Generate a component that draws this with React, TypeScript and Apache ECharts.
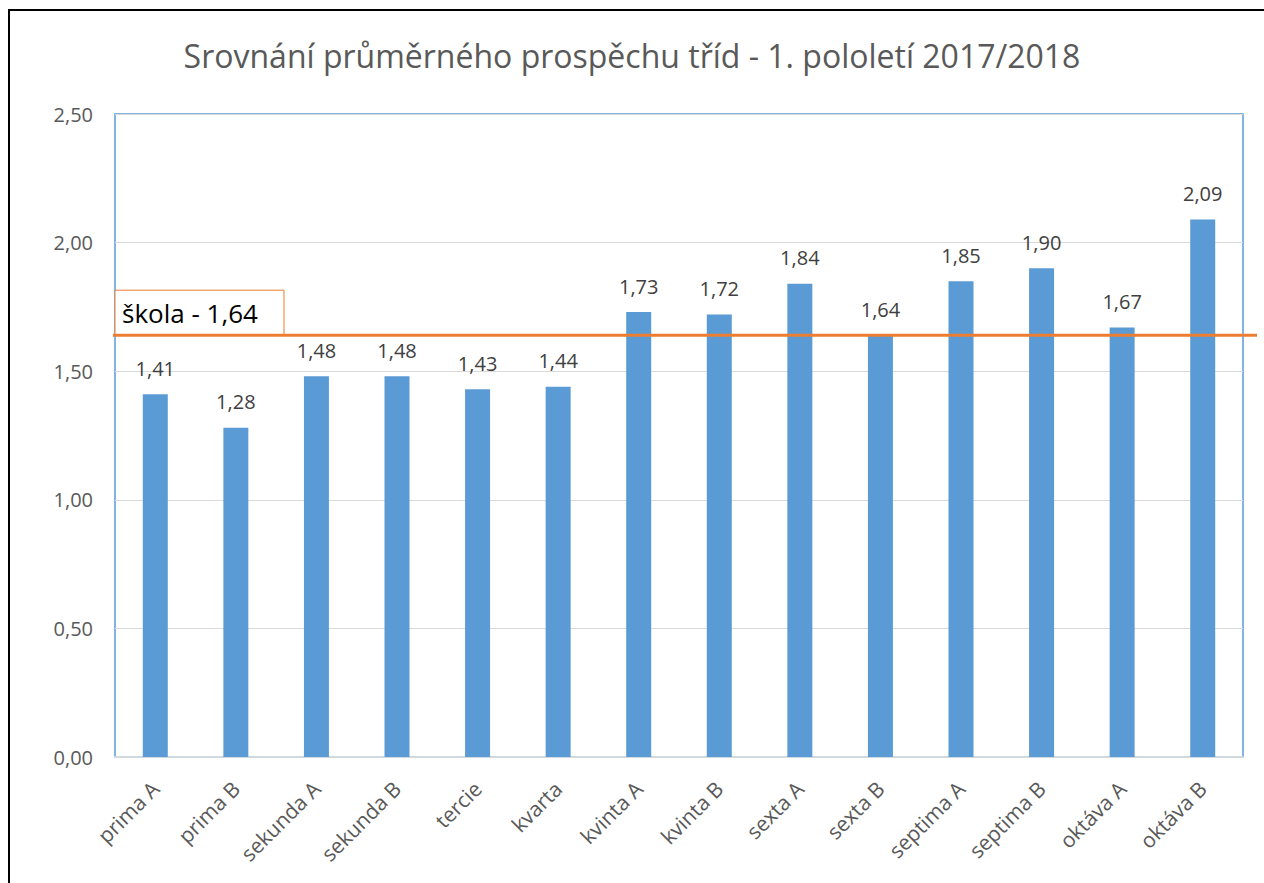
import React, { useEffect, useRef } from "react";
import * as echarts from "echarts";

const categories = [
  "prima A", "prima B", "sekunda A", "sekunda B", "tercie", "kvarta",
  "kvinta A", "kvinta B", "sexta A", "sexta B", "septima A", "septima B",
  "oktáva A", "oktáva B",
];
const values = [1.41, 1.28, 1.48, 1.48, 1.43, 1.44, 1.73, 1.72, 1.84, 1.64, 1.85, 1.9, 1.67, 2.09];
const schoolAverage = 1.64;
const schoolLabel = "škola - 1,64";
const titleText = "Srovnání průměrného prospěchu tříd - 1. pololetí 2017/2018";

const FONT = "'Open Sans', sans-serif";
const fmt = (v: number) => v.toFixed(2).replace(".", ",");

export default function App() {
  const ref = useRef<HTMLDivElement>(null);
  useEffect(() => {
    document.body.style.margin = "0";
    const chart = echarts.init(ref.current!, null, { renderer: "svg" });
    chart.setOption({
      animation: false,
      backgroundColor: "#ffffff",
      title: {
        text: titleText,
        left: "center",
        top: 34,
        textStyle: { fontFamily: FONT, fontSize: 32, fontWeight: "normal", color: "#595959" },
      },
      grid: {
        left: 115,
        right: 21,
        top: 114,
        bottom: 126,
        show: true,
        borderColor: "#5b9bd5",
        borderWidth: 1.5,
      },
      xAxis: {
        type: "category",
        data: categories,
        axisLine: { show: true, lineStyle: { color: "#d0d8e0", width: 2 } },
        axisTick: { show: false },
        axisLabel: {
          rotate: 45,
          margin: 28,
          interval: 0,
          fontFamily: FONT,
          fontSize: 21,
          color: "#595959",
        },
      },
      yAxis: {
        type: "value",
        min: 0,
        max: 2.5,
        interval: 0.5,
        axisLine: { show: false },
        axisTick: { show: false },
        splitLine: { lineStyle: { color: "#d9d9d9", width: 1 } },
        axisLabel: {
          margin: 22,
          fontFamily: FONT,
          fontSize: 20,
          color: "#595959",
          formatter: (v: number) => fmt(v),
        },
      },
      series: [
        {
          type: "bar",
          data: values,
          barWidth: 25,
          itemStyle: { color: "#5b9bd5" },
          label: {
            show: true,
            position: "top",
            distance: 16,
            fontFamily: FONT,
            fontSize: 20,
            color: "#404040",
            formatter: (p: any) => fmt(p.value),
          },
        },
      ],
    });

    const y = chart.convertToPixel({ yAxisIndex: 0 }, schoolAverage) as number;
    const gridLeft = 115;
    chart.setOption({
      graphic: [
        {
          type: "rect",
          shape: { x: 9, y: 10, width: 1400, height: 1000 },
          style: { fill: "none", stroke: "#000000", lineWidth: 2 },
          silent: true,
        },
        {
          type: "rect",
          shape: { x: gridLeft, y: y - 45, width: 169, height: 45 },
          style: { fill: "#ffffff", stroke: "#ed7d31", lineWidth: 1 },
          z: 10,
        },
        {
          type: "text",
          x: gridLeft + 7,
          y: y - 22,
          style: {
            text: schoolLabel,
            fontFamily: FONT,
            fontSize: 26,
            fill: "#000000",
            verticalAlign: "middle",
          },
          z: 11,
        },
        {
          type: "line",
          shape: { x1: gridLeft - 2, y1: y, x2: 1257, y2: y },
          style: { stroke: "#ed7d31", lineWidth: 3 },
          z: 12,
        },
      ],
    });
    return () => chart.dispose();
  }, []);
  return <div ref={ref} style={{ width: 1264, height: 883 }} />;
}
